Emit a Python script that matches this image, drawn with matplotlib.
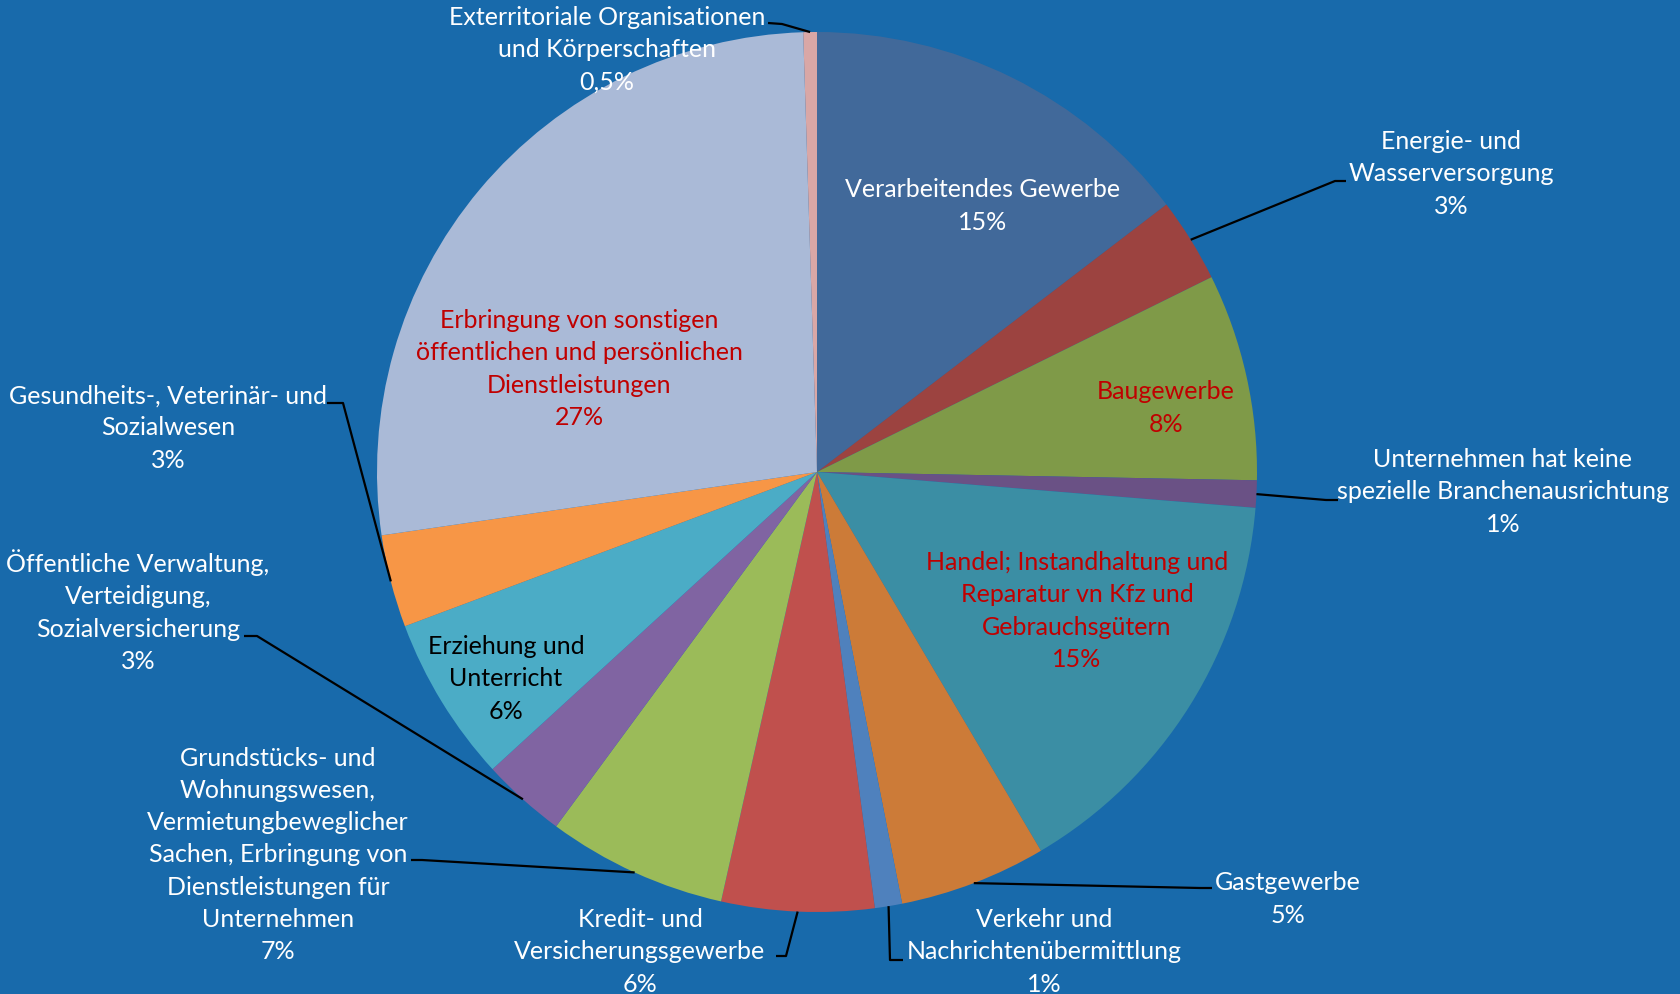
import numpy as np
import matplotlib.pyplot as plt

W, H = 1681, 995

branchen = [
    "Verarbeitendes Gewerbe",
    "Energie- und\nWasserversorgung",
    "Baugewerbe",
    "Unternehmen hat keine\nspezielle Branchenausrichtung",
    "Handel; Instandhaltung und\nReparatur vn Kfz und\nGebrauchsgütern",
    "Gastgewerbe",
    "Verkehr und\nNachrichtenübermittlung",
    "Kredit- und\nVersicherungsgewerbe",
    "Grundstücks- und\nWohnungswesen,\nVermietungbeweglicher\nSachen, Erbringung von\nDienstleistungen für\nUnternehmen",
    "Öffentliche Verwaltung,\nVerteidigung,\nSozialversicherung",
    "Erziehung und\nUnterricht",
    "Gesundheits-, Veterinär- und\nSozialwesen",
    "Erbringung von sonstigen\nöffentlichen und persönlichen\nDienstleistungen",
    "Exterritoriale Organisationen\nund Körperschaften",
]
anteile = [14.6, 3.1, 7.6, 1.0, 15.2, 5.4, 1.0, 5.6, 6.6, 3.1, 6.1, 3.4, 26.8, 0.5]

farben = ["#41699A", "#9C4340", "#7F9A48", "#6A5185", "#3B8EA4", "#CC7B38",
          "#4F81BD", "#C0504D", "#9BBB59", "#8064A2", "#4BACC6", "#F79646",
          "#AABAD7", "#D9A7A6"]
textfarben = ["white", "white", "#C00000", "white", "#C00000", "white", "white",
              "white", "white", "white", "black", "white", "#C00000", "white"]

# label block centres (pixels from top-left) and leader line elbows
label_pos = [(983, 206), (1451, 174), (1166, 408), (1503, 492), (1077, 611),
             (1288, 899), (1044, 952), (640, 952), (278, 855), (138, 611),
             (506, 679), (168, 428), (579, 369), (607, 50)]
leader = {
    1: [(1335, 182), (1346, 182)],
    3: [(1326, 501), (1338, 501)],
    5: [(1200, 889), (1212, 889)],
    6: [(890, 961), (903, 961)],
    7: [(786, 957), (776, 957)],
    8: [(422, 861), (411, 861)],
    9: [(257, 637), (244, 637)],
    11: [(343, 404), (327, 404)],
    13: [(782, 25), (768, 24)],
}

plt.rcParams['font.family'] = ['Lato', 'DejaVu Sans']

fig = plt.figure(figsize=(W / 100, H / 100), dpi=100)
fig.patch.set_facecolor("#186AAB")
ax = fig.add_axes([0, 0, 1, 1])

cx, cy, r = 817, H - 473, 440
wedges, _ = ax.pie(anteile, colors=farben, startangle=90, counterclock=False,
                   center=(cx, cy), radius=r, wedgeprops=dict(linewidth=0))
ax.set_xlim(0, W)
ax.set_ylim(0, H)
ax.axis("off")

total = sum(anteile)


def fmt(v):
    p = v / total * 100
    if p < 1:
        return f"{p:.1f}".replace(".", ",") + "%"
    return f"{p:.0f}%"


for i, w in enumerate(wedges):
    x, y = label_pos[i]
    ax.text(x, H - y, branchen[i] + "\n" + fmt(anteile[i]), ha="center",
            va="center", fontsize=18, linespacing=1.49, color=textfarben[i])
    if i in leader:
        mid = np.deg2rad((w.theta1 + w.theta2) / 2)
        pts = [(cx + r * np.cos(mid), cy + r * np.sin(mid))]
        pts += [(px, H - py) for px, py in leader[i]]
        xs, ys = zip(*pts)
        ax.plot(xs, ys, color="black", lw=1.6, solid_capstyle="butt")

fig.savefig("out.png", dpi=100, facecolor=fig.get_facecolor())
